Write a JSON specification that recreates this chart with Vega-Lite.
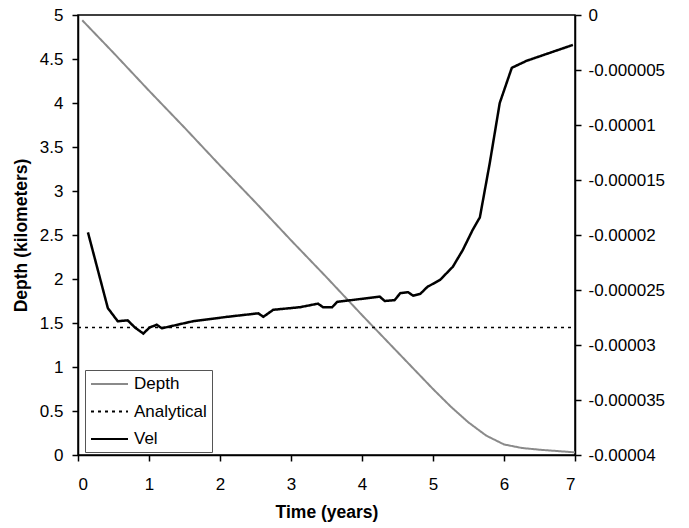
{
  "$schema": "https://vega.github.io/schema/vega-lite/v6.json",
  "autosize": {"type": "none"},
  "padding": {"left": 78, "top": 15, "right": 114, "bottom": 73},
  "width": 497,
  "height": 440,
  "datasets": {
    "depth": [
      {"t": 0.06, "v": 4.94, "series": "Depth"},
      {"t": 0.5, "v": 4.57, "series": "Depth"},
      {"t": 1.0, "v": 4.14, "series": "Depth"},
      {"t": 1.5, "v": 3.72, "series": "Depth"},
      {"t": 2.0, "v": 3.29, "series": "Depth"},
      {"t": 2.5, "v": 2.87, "series": "Depth"},
      {"t": 3.0, "v": 2.44, "series": "Depth"},
      {"t": 3.5, "v": 2.02, "series": "Depth"},
      {"t": 4.0, "v": 1.59, "series": "Depth"},
      {"t": 4.5, "v": 1.17, "series": "Depth"},
      {"t": 5.0, "v": 0.75, "series": "Depth"},
      {"t": 5.25, "v": 0.55, "series": "Depth"},
      {"t": 5.5, "v": 0.37, "series": "Depth"},
      {"t": 5.75, "v": 0.22, "series": "Depth"},
      {"t": 6.0, "v": 0.12, "series": "Depth"},
      {"t": 6.25, "v": 0.08, "series": "Depth"},
      {"t": 6.5, "v": 0.06, "series": "Depth"},
      {"t": 7.0, "v": 0.03, "series": "Depth"}
    ],
    "analytical": [
      {"t": 0, "v": 1.45, "series": "Analytical"},
      {"t": 7, "v": 1.45, "series": "Analytical"}
    ],
    "vel": [
      {"t": 0.14, "v": -0.00001976, "series": "Vel"},
      {"t": 0.42, "v": -0.00002664, "series": "Vel"},
      {"t": 0.56, "v": -0.00002784, "series": "Vel"},
      {"t": 0.70, "v": -0.00002776, "series": "Vel"},
      {"t": 0.80, "v": -0.0000284, "series": "Vel"},
      {"t": 0.92, "v": -0.00002896, "series": "Vel"},
      {"t": 1.01, "v": -0.0000284, "series": "Vel"},
      {"t": 1.11, "v": -0.00002816, "series": "Vel"},
      {"t": 1.18, "v": -0.00002848, "series": "Vel"},
      {"t": 1.62, "v": -0.00002784, "series": "Vel"},
      {"t": 2.10, "v": -0.00002744, "series": "Vel"},
      {"t": 2.54, "v": -0.00002712, "series": "Vel"},
      {"t": 2.61, "v": -0.00002744, "series": "Vel"},
      {"t": 2.75, "v": -0.0000268, "series": "Vel"},
      {"t": 3.13, "v": -0.00002656, "series": "Vel"},
      {"t": 3.38, "v": -0.00002624, "series": "Vel"},
      {"t": 3.45, "v": -0.00002656, "series": "Vel"},
      {"t": 3.58, "v": -0.00002656, "series": "Vel"},
      {"t": 3.65, "v": -0.00002608, "series": "Vel"},
      {"t": 4.25, "v": -0.0000256, "series": "Vel"},
      {"t": 4.32, "v": -0.000026, "series": "Vel"},
      {"t": 4.46, "v": -0.00002592, "series": "Vel"},
      {"t": 4.54, "v": -0.00002528, "series": "Vel"},
      {"t": 4.65, "v": -0.0000252, "series": "Vel"},
      {"t": 4.72, "v": -0.00002552, "series": "Vel"},
      {"t": 4.82, "v": -0.00002536, "series": "Vel"},
      {"t": 4.92, "v": -0.00002472, "series": "Vel"},
      {"t": 5.10, "v": -0.00002408, "series": "Vel"},
      {"t": 5.28, "v": -0.00002288, "series": "Vel"},
      {"t": 5.42, "v": -0.00002136, "series": "Vel"},
      {"t": 5.56, "v": -0.00001952, "series": "Vel"},
      {"t": 5.66, "v": -0.0000184, "series": "Vel"},
      {"t": 5.80, "v": -0.00001344, "series": "Vel"},
      {"t": 5.94, "v": -0.000008, "series": "Vel"},
      {"t": 6.11, "v": -0.0000048, "series": "Vel"},
      {"t": 6.32, "v": -0.00000416, "series": "Vel"},
      {"t": 6.97, "v": -0.00000272, "series": "Vel"}
    ]
  },
  "encoding": {
    "x": {
      "field": "t", "type": "quantitative",
      "scale": {"domain": [0, 7], "nice": false},
      "axis": {"values": [0, 1, 2, 3, 4, 5, 6, 7], "title": "Time (years)", "grid": false, "format": "d", "labelPadding": 15, "titlePadding": 11}
    },
    "color": {
      "field": "series", "type": "nominal",
      "scale": {"domain": ["Depth", "Analytical", "Vel"], "range": ["#8a8a8a", "#000000", "#000000"]},
      "legend": {"title": null}
    },
    "strokeDash": {
      "field": "series", "type": "nominal",
      "scale": {"domain": ["Depth", "Analytical", "Vel"], "range": [[1, 0], [3, 4], [1, 0]]},
      "legend": {"title": null}
    }
  },
  "layer": [
    {
      "data": {"name": "depth"},
      "mark": {"type": "line", "strokeWidth": 2},
      "encoding": {
        "y": {
          "field": "v", "type": "quantitative",
          "scale": {"domain": [0, 5], "nice": false, "zero": false},
          "axis": {"orient": "left", "values": [0, 0.5, 1, 1.5, 2, 2.5, 3, 3.5, 4, 4.5, 5], "format": "~g", "title": "Depth (kilometers)", "grid": false, "labelPadding": 9, "titlePadding": 9}
        }
      }
    },
    {
      "data": {"name": "analytical"},
      "mark": {"type": "line", "strokeWidth": 1.5},
      "encoding": {
        "y": {
          "field": "v", "type": "quantitative",
          "scale": {"domain": [0, 5], "nice": false, "zero": false},
          "axis": null
        }
      }
    },
    {
      "data": {"name": "vel"},
      "mark": {"type": "line", "strokeWidth": 2.5},
      "encoding": {
        "y": {
          "field": "v", "type": "quantitative",
          "scale": {"domain": [-0.00004, 0], "nice": false, "zero": false},
          "axis": {"orient": "right", "values": [0, -0.000005, -0.00001, -0.000015, -0.00002, -0.000025, -0.00003, -0.000035, -0.00004], "format": ".6~f", "labelExpr": "replace(datum.label, '\u2212', '-')", "title": null, "grid": false, "labelPadding": 7}
        }
      }
    }
  ],
  "resolve": {"scale": {"y": "independent"}},
  "config": {
    "font": "Liberation Sans",
    "view": {"stroke": "black", "strokeWidth": 1.5},
    "axis": {
      "domainColor": "black", "domainWidth": 1.5,
      "tickColor": "black", "tickWidth": 1.5, "tickSize": 6,
      "labelColor": "black", "labelFontSize": 17, "labelFont": "Liberation Sans",
      "titleColor": "black", "titleFontSize": 17.5, "titleFont": "Liberation Sans", "titleFontWeight": "bold"
    },
    "legend": {
      "orient": "none", "legendX": 7, "legendY": 355, "direction": "vertical",
      "symbolType": "M-1,0H3.625", "symbolSize": 256, "symbolStrokeWidth": 2,
      "labelFontSize": 17, "labelColor": "black", "labelFont": "Liberation Sans", "labelOffset": 26,
      "strokeColor": "#555555", "fillColor": "white", "padding": 5, "rowPadding": 10.5
    }
  }
}
